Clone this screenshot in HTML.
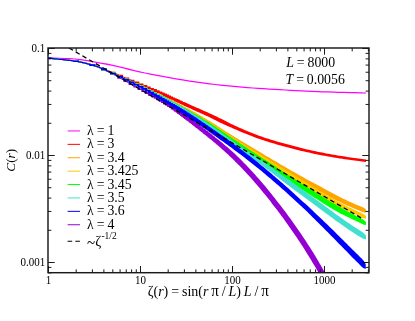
<!DOCTYPE html>
<html><head><meta charset="utf-8"><style>
html,body{margin:0;padding:0;background:#fff;}
svg{display:block;font-family:"Liberation Serif",serif;fill:#000;}
</style></head><body>
<svg width="415" height="321" viewBox="0 0 415 321">
<rect width="415" height="321" fill="#fff"/>
<defs><clipPath id="c"><rect x="48.0" y="48.0" width="321.0" height="224.7"/></clipPath></defs>
<g clip-path="url(#c)">
<path d="M48.0,57.4 L49.7,57.6 L51.5,57.8 L53.2,58.0 L54.9,58.2 L56.6,58.3 L58.4,58.5 L60.1,58.7 L61.8,58.9 L63.6,59.1 L65.3,59.3 L67.0,59.5 L68.7,59.7 L70.5,59.9 L72.2,60.1 L73.9,60.4 L75.7,60.6 L77.4,60.9 L79.1,61.2 L80.8,61.6 L82.6,61.9 L84.3,62.3 L86.0,62.7 L87.8,63.2 L89.5,63.6 L91.2,64.1 L92.9,64.6 L94.7,65.2 L96.4,65.7 L98.1,66.4 L99.9,67.1 L101.6,67.9 L103.3,68.7 L105.1,69.5 L106.8,70.3 L108.5,71.2 L110.2,72.0 L112.0,72.9 L113.7,73.8 L115.4,74.7 L117.2,75.6 L118.9,76.6 L120.6,77.5 L122.3,78.5 L124.1,79.4 L125.8,80.4 L127.5,81.3 L129.3,82.2 L131.0,83.2 L132.7,84.2 L134.4,85.1 L136.2,86.1 L137.9,87.1 L139.6,88.0 L141.4,89.0 L143.1,89.9 L144.8,90.8 L146.5,91.8 L148.3,92.7 L150.0,93.6 L150.0,95.0 L148.3,94.1 L146.5,93.1 L144.8,92.2 L143.1,91.3 L141.4,90.3 L139.6,89.4 L137.9,88.4 L136.2,87.5 L134.4,86.5 L132.7,85.5 L131.0,84.6 L129.3,83.6 L127.5,82.7 L125.8,81.7 L124.1,80.8 L122.3,79.8 L120.6,78.9 L118.9,77.9 L117.2,77.0 L115.4,76.1 L113.7,75.1 L112.0,74.2 L110.2,73.4 L108.5,72.5 L106.8,71.7 L105.1,70.8 L103.3,70.0 L101.6,69.2 L99.9,68.4 L98.1,67.7 L96.4,67.0 L94.7,66.4 L92.9,65.9 L91.2,65.4 L89.5,64.9 L87.8,64.4 L86.0,64.0 L84.3,63.6 L82.6,63.2 L80.8,62.8 L79.1,62.5 L77.4,62.1 L75.7,61.9 L73.9,61.6 L72.2,61.3 L70.5,61.1 L68.7,60.9 L67.0,60.7 L65.3,60.5 L63.6,60.3 L61.8,60.1 L60.1,59.9 L58.4,59.7 L56.6,59.5 L54.9,59.4 L53.2,59.2 L51.5,59.0 L49.7,58.8 L48.0,58.6Z M48.0,57.3 L51.4,57.3 L51.4,58.9 L48.0,58.9Z M73.2,60.5 L79.0,60.5 L79.0,62.1 L73.2,62.1Z M89.4,64.3 L95.2,64.3 L95.2,65.9 L89.4,65.9Z M101.0,68.8 L106.8,68.8 L106.8,70.4 L101.0,70.4Z M110.0,73.2 L115.8,73.2 L115.8,74.8 L110.0,74.8Z M117.2,77.1 L123.0,77.1 L123.0,78.7 L117.2,78.7Z M123.4,80.5 L129.2,80.5 L129.4,83.4 L134.4,83.4 L134.6,86.0 L139.2,86.0 L139.4,88.4 L143.4,88.4 L143.6,90.5 L147.2,90.5 L147.4,92.3 L150.6,92.3 L150.8,94.1 L153.8,94.1 L154.0,95.7 L156.8,95.7 L157.0,97.2 L159.6,97.2 L159.8,98.7 L162.2,98.7 L162.4,100.1 L164.6,100.1 L164.8,101.5 L166.8,101.5 L167.0,102.8 L169.0,102.8 L169.2,104.0 L171.0,104.0 L171.2,105.3 L173.0,105.3 L173.2,106.5 L175.0,106.5 L175.2,107.8 L176.6,107.8 L176.8,109.0 L178.4,109.0 L178.6,110.1 L180.0,110.1 L180.2,111.2 L181.6,111.2 L181.8,112.3 L183.0,112.3 L183.2,113.4 L184.6,113.4 L184.8,114.4 L186.0,114.4 L186.2,115.4 L187.2,115.4 L187.4,116.4 L188.6,116.4 L188.8,117.3 L189.8,117.3 L190.0,118.3 L191.2,118.3 L191.4,119.2 L192.2,119.2 L192.4,120.0 L193.4,120.0 L193.6,120.9 L194.6,120.9 L194.8,121.7 L195.6,121.7 L195.8,122.5 L196.8,122.5 L197.0,123.3 L197.8,123.3 L198.0,124.1 L198.8,124.1 L199.0,124.8 L199.8,124.8 L200.0,125.6 L200.8,125.6 L201.0,126.3 L201.6,126.3 L201.8,127.0 L202.6,127.0 L202.8,127.7 L203.4,127.7 L203.6,128.4 L204.4,128.4 L204.6,129.1 L205.2,129.1 L205.4,129.7 L206.0,129.7 L206.2,130.4 L206.8,130.4 L207.0,131.0 L207.8,131.0 L208.0,131.6 L208.4,131.6 L208.6,132.2 L209.2,132.2 L209.4,132.8 L210.0,132.8 L210.2,133.4 L210.8,133.4 L211.0,134.0 L211.6,134.0 L211.8,134.6 L212.2,134.6 L212.4,135.2 L213.0,135.2 L213.2,135.7 L213.6,135.7 L213.8,136.3 L214.4,136.3 L214.6,136.8 L215.0,136.8 L215.2,137.4 L215.6,137.4 L215.8,137.9 L216.0,137.9 L217.4,138.9 L218.8,140.0 L220.2,141.2 L221.6,142.3 L223.0,143.5 L224.4,144.7 L225.8,145.9 L227.2,147.1 L228.6,148.3 L230.0,149.5 L231.4,150.8 L232.8,152.1 L234.2,153.3 L235.6,154.6 L237.0,156.0 L238.4,157.3 L239.8,158.7 L241.2,160.0 L242.6,161.4 L244.0,162.9 L245.4,164.3 L246.8,165.7 L248.2,167.2 L249.6,168.7 L251.0,170.2 L252.4,171.7 L253.8,173.2 L255.2,174.8 L256.6,176.4 L258.0,178.0 L259.4,179.6 L260.8,181.2 L262.2,182.8 L263.6,184.5 L265.0,186.1 L266.4,187.8 L267.8,189.5 L269.2,191.2 L270.6,192.9 L271.9,194.6 L273.3,196.4 L274.7,198.1 L276.1,199.9 L277.5,201.7 L278.9,203.5 L280.3,205.3 L281.7,207.1 L283.1,208.9 L284.5,210.8 L285.9,212.6 L287.3,214.5 L288.7,216.4 L290.1,218.3 L291.5,220.3 L292.9,222.2 L294.3,224.2 L295.7,226.2 L297.1,228.2 L298.5,230.2 L299.9,232.2 L301.3,234.3 L302.7,236.4 L304.1,238.5 L305.5,240.6 L306.9,242.7 L308.3,244.9 L309.7,247.1 L311.1,249.3 L312.5,251.6 L313.9,253.8 L315.3,256.1 L316.7,258.5 L318.1,260.8 L319.5,263.2 L320.9,265.6 L322.3,268.0 L323.7,270.5 L325.1,273.0 L326.5,275.5 L326.5,287.2 L325.1,284.6 L323.7,282.0 L322.3,279.5 L320.9,277.0 L319.5,274.5 L318.1,272.0 L316.7,269.5 L315.3,267.1 L313.9,264.7 L312.5,262.4 L311.1,260.0 L309.7,257.7 L308.3,255.4 L306.9,253.2 L305.5,251.0 L304.1,248.7 L302.7,246.6 L301.3,244.4 L299.9,242.3 L298.5,240.2 L297.1,238.1 L295.7,236.0 L294.3,233.9 L292.9,231.9 L291.5,229.9 L290.1,227.9 L288.7,225.9 L287.3,223.9 L285.9,222.0 L284.5,220.0 L283.1,218.1 L281.7,216.2 L280.3,214.3 L278.9,212.5 L277.5,210.6 L276.1,208.8 L274.7,207.0 L273.3,205.2 L271.9,203.4 L270.6,201.6 L269.2,199.8 L267.8,198.1 L266.4,196.3 L265.0,194.6 L263.6,192.9 L262.2,191.2 L260.8,189.5 L259.4,187.8 L258.0,186.2 L256.6,184.5 L255.2,182.9 L253.8,181.3 L252.4,179.7 L251.0,178.1 L249.6,176.5 L248.2,175.0 L246.8,173.5 L245.4,171.9 L244.0,170.5 L242.6,169.0 L241.2,167.5 L239.8,166.1 L238.4,164.7 L237.0,163.3 L235.6,161.9 L234.2,160.5 L232.8,159.1 L231.4,157.8 L230.0,156.4 L228.6,155.1 L227.2,153.8 L225.8,152.5 L224.4,151.2 L223.0,150.0 L221.6,148.7 L220.2,147.5 L218.8,146.3 L217.4,145.1 L216.0,144.0 L215.8,143.5 L215.4,143.5 L215.2,143.1 L214.8,143.1 L214.6,142.6 L214.2,142.6 L214.0,142.1 L213.6,142.1 L213.4,141.6 L213.0,141.6 L212.8,141.1 L212.4,141.1 L212.2,140.6 L211.8,140.6 L211.6,140.1 L211.2,140.1 L211.0,139.5 L210.6,139.5 L210.4,139.0 L209.8,139.0 L209.6,138.5 L209.2,138.5 L209.0,137.9 L208.6,137.9 L208.4,137.4 L207.8,137.4 L207.6,136.8 L207.2,136.8 L207.0,136.2 L206.4,136.2 L206.2,135.7 L205.8,135.7 L205.6,135.1 L205.0,135.1 L204.8,134.5 L204.2,134.5 L204.0,133.9 L203.4,133.9 L203.2,133.3 L202.6,133.3 L202.4,132.6 L202.0,132.6 L201.8,132.0 L201.0,132.0 L200.8,131.3 L200.2,131.3 L200.0,130.7 L199.4,130.7 L199.2,130.0 L198.6,130.0 L198.4,129.3 L197.6,129.3 L197.4,128.6 L196.8,128.6 L196.6,127.9 L195.8,127.9 L195.6,127.2 L195.0,127.2 L194.8,126.4 L194.0,126.4 L193.8,125.7 L193.0,125.7 L192.8,124.9 L192.0,124.9 L191.8,124.1 L191.0,124.1 L190.8,123.3 L189.8,123.3 L189.6,122.5 L188.8,122.5 L188.6,121.6 L187.6,121.6 L187.4,120.8 L186.4,120.8 L186.2,119.9 L185.4,119.9 L185.2,118.9 L184.0,118.9 L183.8,118.0 L182.8,118.0 L182.6,117.0 L181.4,117.0 L181.2,116.0 L180.2,116.0 L180.0,115.0 L178.8,115.0 L178.6,113.9 L177.2,113.9 L177.0,112.8 L175.8,112.8 L175.6,111.7 L174.2,111.7 L174.0,110.6 L172.6,110.6 L172.4,109.4 L170.8,109.4 L170.6,108.1 L169.2,108.1 L169.0,106.9 L167.2,106.9 L167.0,105.6 L165.2,105.6 L165.0,104.4 L163.2,104.4 L163.0,103.1 L161.0,103.1 L160.8,101.7 L158.8,101.7 L158.6,100.3 L156.4,100.3 L156.2,98.8 L153.8,98.8 L153.6,97.3 L151.0,97.3 L150.8,95.7 L148.0,95.7 L147.8,93.9 L144.8,93.9 L144.6,92.1 L141.4,92.1 L141.2,90.0 L137.6,90.0 L137.4,87.6 L133.4,87.6 L133.2,85.0 L128.6,85.0 L128.4,82.1 L123.4,82.1Z" fill="#9400d3"/>
<path d="M48.0,57.3 L53.4,57.5 L58.8,57.7 L64.2,57.9 L69.6,58.1 L74.9,58.4 L80.3,58.9 L85.7,59.8 L91.1,60.8 L96.5,61.7 L101.9,62.7 L107.3,63.6 L112.7,64.8 L118.1,66.0 L123.5,67.3 L128.8,68.6 L134.2,69.9 L139.6,71.2 L145.0,72.4 L150.4,73.5 L155.8,74.6 L161.2,75.6 L166.6,76.6 L172.0,77.5 L177.4,78.4 L182.7,79.3 L188.1,80.2 L193.5,81.0 L198.9,81.7 L204.3,82.5 L209.7,83.2 L215.1,83.9 L220.5,84.5 L225.9,85.1 L231.3,85.6 L236.6,86.1 L242.0,86.6 L247.4,87.0 L252.8,87.4 L258.2,87.8 L263.6,88.1 L269.0,88.5 L274.4,88.8 L279.8,89.1 L285.2,89.4 L290.5,89.7 L295.9,90.0 L301.3,90.3 L306.7,90.5 L312.1,90.7 L317.5,91.0 L322.9,91.2 L328.3,91.3 L333.7,91.5 L339.1,91.7 L344.4,91.8 L349.8,92.0 L355.2,92.1 L360.6,92.2 L366.0,92.4 L366.0,93.6 L360.6,93.5 L355.2,93.3 L349.8,93.2 L344.4,93.0 L339.1,92.9 L333.7,92.7 L328.3,92.5 L322.9,92.4 L317.5,92.2 L312.1,91.9 L306.7,91.7 L301.3,91.5 L295.9,91.2 L290.5,90.9 L285.2,90.6 L279.8,90.3 L274.4,90.0 L269.0,89.7 L263.6,89.3 L258.2,89.0 L252.8,88.6 L247.4,88.2 L242.0,87.8 L236.6,87.3 L231.3,86.8 L225.9,86.3 L220.5,85.7 L215.1,85.1 L209.7,84.4 L204.3,83.7 L198.9,83.0 L193.5,82.2 L188.1,81.4 L182.7,80.5 L177.4,79.7 L172.0,78.7 L166.6,77.8 L161.2,76.8 L155.8,75.8 L150.4,74.7 L145.0,73.6 L139.6,72.4 L134.2,71.2 L128.8,69.9 L123.5,68.5 L118.1,67.3 L112.7,66.0 L107.3,64.9 L101.9,63.9 L96.5,63.0 L91.1,62.0 L85.7,61.0 L80.3,60.2 L74.9,59.6 L69.6,59.3 L64.2,59.1 L58.8,58.9 L53.4,58.7 L48.0,58.5Z" fill="#ff00ff"/>
<path d="M48.0,57.4 L49.7,57.6 L51.5,57.8 L53.2,58.0 L54.9,58.1 L56.6,58.3 L58.4,58.5 L60.1,58.7 L61.8,58.8 L63.6,59.0 L65.3,59.2 L67.0,59.4 L68.7,59.6 L70.5,59.8 L72.2,60.0 L73.9,60.3 L75.7,60.5 L77.4,60.8 L79.1,61.1 L80.8,61.5 L82.6,61.8 L84.3,62.2 L86.0,62.6 L87.8,63.1 L89.5,63.5 L91.2,64.0 L92.9,64.5 L94.7,65.0 L96.4,65.5 L98.1,66.1 L99.9,66.7 L101.6,67.4 L103.3,68.1 L105.1,68.8 L106.8,69.5 L108.5,70.2 L110.2,70.9 L112.0,71.6 L113.7,72.3 L115.4,73.1 L117.2,73.8 L118.9,74.5 L120.6,75.2 L122.3,75.9 L124.1,76.7 L125.8,77.4 L127.5,78.1 L129.3,78.8 L131.0,79.5 L132.7,80.3 L134.4,81.0 L136.2,81.7 L137.9,82.5 L139.6,83.2 L141.4,83.9 L143.1,84.7 L144.8,85.4 L146.5,86.1 L148.3,86.9 L150.0,87.6 L150.0,88.9 L148.3,88.2 L146.5,87.4 L144.8,86.7 L143.1,86.0 L141.4,85.2 L139.6,84.5 L137.9,83.8 L136.2,83.0 L134.4,82.3 L132.7,81.6 L131.0,80.8 L129.3,80.1 L127.5,79.4 L125.8,78.7 L124.1,78.0 L122.3,77.2 L120.6,76.5 L118.9,75.8 L117.2,75.1 L115.4,74.4 L113.7,73.6 L112.0,72.9 L110.2,72.2 L108.5,71.5 L106.8,70.8 L105.1,70.1 L103.3,69.4 L101.6,68.7 L99.9,68.0 L98.1,67.4 L96.4,66.8 L94.7,66.2 L92.9,65.7 L91.2,65.2 L89.5,64.8 L87.8,64.3 L86.0,63.9 L84.3,63.5 L82.6,63.1 L80.8,62.7 L79.1,62.4 L77.4,62.0 L75.7,61.8 L73.9,61.5 L72.2,61.2 L70.5,61.0 L68.7,60.8 L67.0,60.6 L65.3,60.4 L63.6,60.2 L61.8,60.0 L60.1,59.9 L58.4,59.7 L56.6,59.5 L54.9,59.3 L53.2,59.2 L51.5,59.0 L49.7,58.8 L48.0,58.6Z M48.0,57.3 L51.4,57.3 L51.4,58.9 L48.0,58.9Z M73.2,60.4 L79.0,60.4 L79.0,62.0 L73.2,62.0Z M89.4,64.1 L95.2,64.1 L95.2,65.7 L89.4,65.7Z M101.0,68.2 L106.8,68.2 L106.8,69.8 L101.0,69.8Z M110.0,71.8 L115.8,71.8 L115.8,73.4 L110.0,73.4Z M117.2,74.8 L123.0,74.8 L123.0,76.4 L117.2,76.4Z M123.4,77.4 L129.2,77.4 L129.4,79.7 L134.4,79.7 L134.6,81.6 L139.2,81.6 L139.4,83.4 L143.4,83.4 L143.6,85.0 L147.2,85.0 L147.4,86.5 L150.6,86.5 L150.8,87.9 L153.8,87.9 L154.0,89.1 L156.8,89.1 L157.0,90.3 L159.6,90.3 L159.8,91.5 L162.2,91.5 L162.4,92.6 L164.6,92.6 L164.8,93.6 L166.8,93.6 L167.0,94.6 L169.0,94.6 L169.2,95.6 L171.0,95.6 L171.2,96.5 L173.0,96.5 L173.2,97.4 L175.0,97.4 L175.2,98.2 L176.6,98.2 L176.8,99.0 L178.4,99.0 L178.6,99.8 L180.0,99.8 L180.2,100.5 L181.6,100.5 L181.8,101.2 L183.0,101.2 L183.2,101.9 L184.6,101.9 L184.8,102.5 L186.0,102.5 L186.2,103.1 L187.2,103.1 L187.4,103.7 L188.6,103.7 L188.8,104.3 L189.8,104.3 L190.0,104.9 L191.2,104.9 L191.4,105.4 L192.2,105.4 L192.4,105.9 L193.4,105.9 L193.6,106.4 L194.6,106.4 L194.8,106.9 L195.6,106.9 L195.8,107.4 L196.8,107.4 L197.0,107.9 L197.8,107.9 L198.0,108.3 L198.8,108.3 L199.0,108.8 L199.8,108.8 L200.0,109.2 L200.8,109.2 L201.0,109.6 L201.6,109.6 L201.8,110.1 L202.6,110.1 L202.8,110.5 L203.4,110.5 L203.6,110.9 L204.4,110.9 L204.6,111.2 L205.2,111.2 L205.4,111.6 L206.0,111.6 L206.2,112.0 L206.8,112.0 L207.0,112.3 L207.8,112.3 L208.0,112.7 L208.4,112.7 L208.6,113.0 L209.2,113.0 L209.4,113.4 L210.0,113.4 L210.2,113.7 L210.8,113.7 L211.0,114.1 L211.6,114.1 L211.8,114.4 L212.2,114.4 L212.4,114.7 L213.0,114.7 L213.2,115.0 L213.6,115.0 L213.8,115.4 L214.4,115.4 L214.6,115.7 L215.0,115.7 L215.2,116.0 L215.6,116.0 L215.8,116.3 L216.0,116.3 L217.9,117.2 L219.8,118.2 L221.7,119.1 L223.6,120.1 L225.5,121.1 L227.4,122.0 L229.3,123.0 L231.2,123.9 L233.1,124.8 L235.0,125.7 L236.9,126.5 L238.8,127.4 L240.7,128.3 L242.6,129.1 L244.5,130.0 L246.4,130.8 L248.3,131.6 L250.2,132.3 L252.1,133.1 L254.0,133.8 L255.9,134.6 L257.8,135.2 L259.7,135.9 L261.6,136.6 L263.5,137.2 L265.4,137.9 L267.3,138.5 L269.2,139.1 L271.1,139.7 L273.0,140.3 L274.9,140.8 L276.8,141.4 L278.7,141.9 L280.6,142.5 L282.5,143.0 L284.4,143.5 L286.3,144.0 L288.2,144.5 L290.1,145.0 L291.9,145.5 L293.8,146.0 L295.7,146.5 L297.6,147.0 L299.5,147.5 L301.4,148.0 L303.3,148.4 L305.2,148.9 L307.1,149.4 L309.0,149.8 L310.9,150.2 L312.8,150.7 L314.7,151.1 L316.6,151.5 L318.5,151.9 L320.4,152.3 L322.3,152.6 L324.2,153.0 L326.1,153.4 L328.0,153.7 L329.9,154.1 L331.8,154.4 L333.7,154.7 L335.6,155.1 L337.5,155.4 L339.4,155.7 L341.3,156.0 L343.2,156.3 L345.1,156.6 L347.0,156.9 L348.9,157.2 L350.8,157.4 L352.7,157.7 L354.6,158.0 L356.5,158.2 L358.4,158.5 L360.3,158.8 L362.2,159.0 L364.1,159.3 L366.0,159.5 L366.0,162.1 L364.1,161.8 L362.2,161.6 L360.3,161.3 L358.4,161.1 L356.5,160.8 L354.6,160.5 L352.7,160.3 L350.8,160.0 L348.9,159.8 L347.0,159.5 L345.1,159.2 L343.2,158.9 L341.3,158.6 L339.4,158.4 L337.5,158.1 L335.6,157.7 L333.7,157.4 L331.8,157.1 L329.9,156.8 L328.0,156.4 L326.1,156.1 L324.2,155.8 L322.3,155.4 L320.4,155.0 L318.5,154.7 L316.6,154.3 L314.7,153.9 L312.8,153.5 L310.9,153.1 L309.0,152.6 L307.1,152.2 L305.2,151.8 L303.3,151.3 L301.4,150.9 L299.5,150.4 L297.6,149.9 L295.7,149.4 L293.8,149.0 L291.9,148.5 L290.1,148.0 L288.2,147.5 L286.3,147.0 L284.4,146.5 L282.5,146.0 L280.6,145.4 L278.7,144.9 L276.8,144.4 L274.9,143.8 L273.0,143.3 L271.1,142.7 L269.2,142.2 L267.3,141.6 L265.4,141.0 L263.5,140.3 L261.6,139.7 L259.7,139.1 L257.8,138.4 L255.9,137.7 L254.0,137.0 L252.1,136.3 L250.2,135.6 L248.3,134.8 L246.4,134.1 L244.5,133.3 L242.6,132.5 L240.7,131.7 L238.8,130.9 L236.9,130.1 L235.0,129.2 L233.1,128.4 L231.2,127.6 L229.3,126.8 L227.4,125.9 L225.5,125.1 L223.6,124.2 L221.7,123.3 L219.8,122.4 L217.9,121.5 L216.0,120.6 L215.8,120.3 L215.4,120.3 L215.2,120.0 L214.8,120.0 L214.6,119.7 L214.2,119.7 L214.0,119.4 L213.6,119.4 L213.4,119.1 L213.0,119.1 L212.8,118.8 L212.4,118.8 L212.2,118.5 L211.8,118.5 L211.6,118.2 L211.2,118.2 L211.0,117.9 L210.6,117.9 L210.4,117.6 L209.8,117.6 L209.6,117.3 L209.2,117.3 L209.0,117.0 L208.6,117.0 L208.4,116.6 L207.8,116.6 L207.6,116.3 L207.2,116.3 L207.0,116.0 L206.4,116.0 L206.2,115.7 L205.8,115.7 L205.6,115.3 L205.0,115.3 L204.8,115.0 L204.2,115.0 L204.0,114.6 L203.4,114.6 L203.2,114.3 L202.6,114.3 L202.4,113.9 L202.0,113.9 L201.8,113.6 L201.0,113.6 L200.8,113.2 L200.2,113.2 L200.0,112.8 L199.4,112.8 L199.2,112.5 L198.6,112.5 L198.4,112.1 L197.6,112.1 L197.4,111.7 L196.8,111.7 L196.6,111.2 L195.8,111.2 L195.6,110.8 L195.0,110.8 L194.8,110.4 L194.0,110.4 L193.8,109.9 L193.0,109.9 L192.8,109.5 L192.0,109.5 L191.8,109.0 L191.0,109.0 L190.8,108.5 L189.8,108.5 L189.6,108.0 L188.8,108.0 L188.6,107.5 L187.6,107.5 L187.4,107.0 L186.4,107.0 L186.2,106.5 L185.4,106.5 L185.2,105.9 L184.0,105.9 L183.8,105.3 L182.8,105.3 L182.6,104.7 L181.4,104.7 L181.2,104.1 L180.2,104.1 L180.0,103.5 L178.8,103.5 L178.6,102.8 L177.2,102.8 L177.0,102.1 L175.8,102.1 L175.6,101.4 L174.2,101.4 L174.0,100.6 L172.6,100.6 L172.4,99.8 L170.8,99.8 L170.6,99.0 L169.2,99.0 L169.0,98.1 L167.2,98.1 L167.0,97.2 L165.2,97.2 L165.0,96.2 L163.2,96.2 L163.0,95.2 L161.0,95.2 L160.8,94.2 L158.8,94.2 L158.6,93.1 L156.4,93.1 L156.2,91.9 L153.8,91.9 L153.6,90.7 L151.0,90.7 L150.8,89.5 L148.0,89.5 L147.8,88.1 L144.8,88.1 L144.6,86.6 L141.4,86.6 L141.2,85.0 L137.6,85.0 L137.4,83.2 L133.4,83.2 L133.2,81.3 L128.6,81.3 L128.4,79.0 L123.4,79.0Z" fill="#ff0000"/>
<path d="M48.0,57.4 L49.7,57.6 L51.5,57.8 L53.2,58.0 L54.9,58.2 L56.6,58.3 L58.4,58.5 L60.1,58.7 L61.8,58.9 L63.6,59.1 L65.3,59.3 L67.0,59.5 L68.7,59.7 L70.5,59.9 L72.2,60.1 L73.9,60.4 L75.7,60.6 L77.4,60.9 L79.1,61.2 L80.8,61.6 L82.6,62.0 L84.3,62.3 L86.0,62.8 L87.8,63.2 L89.5,63.7 L91.2,64.1 L92.9,64.7 L94.7,65.2 L96.4,65.7 L98.1,66.4 L99.9,67.0 L101.6,67.8 L103.3,68.5 L105.1,69.3 L106.8,70.1 L108.5,70.9 L110.2,71.6 L112.0,72.4 L113.7,73.2 L115.4,74.0 L117.2,74.7 L118.9,75.5 L120.6,76.3 L122.3,77.1 L124.1,77.9 L125.8,78.7 L127.5,79.5 L129.3,80.3 L131.0,81.1 L132.7,81.9 L134.4,82.7 L136.2,83.5 L137.9,84.3 L139.6,85.2 L141.4,86.0 L143.1,86.8 L144.8,87.6 L146.5,88.5 L148.3,89.3 L150.0,90.2 L150.0,91.5 L148.3,90.7 L146.5,89.8 L144.8,89.0 L143.1,88.1 L141.4,87.3 L139.6,86.5 L137.9,85.7 L136.2,84.8 L134.4,84.0 L132.7,83.2 L131.0,82.4 L129.3,81.6 L127.5,80.8 L125.8,80.0 L124.1,79.2 L122.3,78.4 L120.6,77.6 L118.9,76.8 L117.2,76.1 L115.4,75.3 L113.7,74.5 L112.0,73.7 L110.2,73.0 L108.5,72.2 L106.8,71.4 L105.1,70.6 L103.3,69.8 L101.6,69.1 L99.9,68.3 L98.1,67.6 L96.4,67.0 L94.7,66.4 L92.9,65.9 L91.2,65.4 L89.5,64.9 L87.8,64.4 L86.0,64.0 L84.3,63.6 L82.6,63.2 L80.8,62.8 L79.1,62.5 L77.4,62.1 L75.7,61.9 L73.9,61.6 L72.2,61.3 L70.5,61.1 L68.7,60.9 L67.0,60.7 L65.3,60.5 L63.6,60.3 L61.8,60.1 L60.1,59.9 L58.4,59.7 L56.6,59.5 L54.9,59.4 L53.2,59.2 L51.5,59.0 L49.7,58.8 L48.0,58.6Z M48.0,57.3 L51.4,57.3 L51.4,58.9 L48.0,58.9Z M73.2,60.5 L79.0,60.5 L79.0,62.1 L73.2,62.1Z M89.4,64.3 L95.2,64.3 L95.2,65.9 L89.4,65.9Z M101.0,68.6 L106.8,68.6 L106.8,70.2 L101.0,70.2Z M110.0,72.6 L115.8,72.6 L115.8,74.2 L110.0,74.2Z M117.2,75.9 L123.0,75.9 L123.0,77.5 L117.2,77.5Z M123.4,78.8 L129.2,78.8 L129.4,81.2 L134.4,81.2 L134.6,83.4 L139.2,83.4 L139.4,85.4 L143.4,85.4 L143.6,87.3 L147.2,87.3 L147.4,88.9 L150.6,88.9 L150.8,90.5 L153.8,90.5 L154.0,92.0 L156.8,92.0 L157.0,93.3 L159.6,93.3 L159.8,94.6 L162.2,94.6 L162.4,95.9 L164.6,95.9 L164.8,97.0 L166.8,97.0 L167.0,98.1 L169.0,98.1 L169.2,99.2 L171.0,99.2 L171.2,100.2 L173.0,100.2 L173.2,101.2 L175.0,101.2 L175.2,102.2 L176.6,102.2 L176.8,103.1 L178.4,103.1 L178.6,103.9 L180.0,103.9 L180.2,104.8 L181.6,104.8 L181.8,105.6 L183.0,105.6 L183.2,106.4 L184.6,106.4 L184.8,107.2 L186.0,107.2 L186.2,107.9 L187.2,107.9 L187.4,108.6 L188.6,108.6 L188.8,109.3 L189.8,109.3 L190.0,110.0 L191.2,110.0 L191.4,110.7 L192.2,110.7 L192.4,111.3 L193.4,111.3 L193.6,112.0 L194.6,112.0 L194.8,112.6 L195.6,112.6 L195.8,113.2 L196.8,113.2 L197.0,113.8 L197.8,113.8 L198.0,114.4 L198.8,114.4 L199.0,115.0 L199.8,115.0 L200.0,115.5 L200.8,115.5 L201.0,116.1 L201.6,116.1 L201.8,116.6 L202.6,116.6 L202.8,117.2 L203.4,117.2 L203.6,117.7 L204.4,117.7 L204.6,118.2 L205.2,118.2 L205.4,118.7 L206.0,118.7 L206.2,119.2 L206.8,119.2 L207.0,119.7 L207.8,119.7 L208.0,120.2 L208.4,120.2 L208.6,120.7 L209.2,120.7 L209.4,121.1 L210.0,121.1 L210.2,121.6 L210.8,121.6 L211.0,122.0 L211.6,122.0 L211.8,122.5 L212.2,122.5 L212.4,122.9 L213.0,122.9 L213.2,123.4 L213.6,123.4 L213.8,123.8 L214.4,123.8 L214.6,124.2 L215.0,124.2 L215.2,124.6 L215.6,124.6 L215.8,125.0 L216.0,125.0 L217.9,126.2 L219.8,127.5 L221.7,128.7 L223.6,130.0 L225.5,131.2 L227.4,132.4 L229.3,133.6 L231.2,134.8 L233.1,136.0 L235.0,137.2 L236.9,138.3 L238.8,139.5 L240.7,140.7 L242.6,141.8 L244.5,142.9 L246.4,144.0 L248.3,145.2 L250.2,146.3 L252.1,147.4 L254.0,148.6 L255.9,149.7 L257.8,150.8 L259.7,152.0 L261.6,153.1 L263.5,154.2 L265.4,155.4 L267.3,156.5 L269.2,157.6 L271.1,158.8 L273.0,159.9 L274.9,161.0 L276.8,162.1 L278.7,163.2 L280.6,164.4 L282.5,165.5 L284.4,166.6 L286.3,167.7 L288.2,168.8 L290.1,169.9 L291.9,171.0 L293.8,172.0 L295.7,173.1 L297.6,174.2 L299.5,175.2 L301.4,176.3 L303.3,177.3 L305.2,178.4 L307.1,179.4 L309.0,180.4 L310.9,181.5 L312.8,182.5 L314.7,183.5 L316.6,184.5 L318.5,185.6 L320.4,186.6 L322.3,187.6 L324.2,188.7 L326.1,189.7 L328.0,190.7 L329.9,191.8 L331.8,192.8 L333.7,193.8 L335.6,194.8 L337.5,195.8 L339.4,196.8 L341.3,197.8 L343.2,198.7 L345.1,199.6 L347.0,200.5 L348.9,201.4 L350.8,202.3 L352.7,203.1 L354.6,204.0 L356.5,204.8 L358.4,205.6 L360.3,206.3 L362.2,207.1 L364.1,208.1 L366.0,209.5 L366.0,212.5 L364.1,212.4 L362.2,211.8 L360.3,211.1 L358.4,210.3 L356.5,209.6 L354.6,208.8 L352.7,208.0 L350.8,207.1 L348.9,206.3 L347.0,205.5 L345.1,204.6 L343.2,203.7 L341.3,202.8 L339.4,201.8 L337.5,200.9 L335.6,199.9 L333.7,198.9 L331.8,197.9 L329.9,196.9 L328.0,195.9 L326.1,194.8 L324.2,193.8 L322.3,192.8 L320.4,191.8 L318.5,190.7 L316.6,189.7 L314.7,188.7 L312.8,187.7 L310.9,186.6 L309.0,185.6 L307.1,184.6 L305.2,183.6 L303.3,182.5 L301.4,181.5 L299.5,180.5 L297.6,179.4 L295.7,178.3 L293.8,177.2 L291.9,176.1 L290.1,175.0 L288.2,173.9 L286.3,172.8 L284.4,171.7 L282.5,170.6 L280.6,169.4 L278.7,168.3 L276.8,167.2 L274.9,166.0 L273.0,164.9 L271.1,163.7 L269.2,162.6 L267.3,161.4 L265.4,160.2 L263.5,159.1 L261.6,157.9 L259.7,156.8 L257.8,155.6 L255.9,154.5 L254.0,153.3 L252.1,152.1 L250.2,151.0 L248.3,149.8 L246.4,148.6 L244.5,147.4 L242.6,146.2 L240.7,145.0 L238.8,143.9 L236.9,142.7 L235.0,141.6 L233.1,140.4 L231.2,139.3 L229.3,138.1 L227.4,137.0 L225.5,135.8 L223.6,134.7 L221.7,133.5 L219.8,132.3 L217.9,131.2 L216.0,130.1 L215.8,129.7 L215.4,129.7 L215.2,129.4 L214.8,129.4 L214.6,129.0 L214.2,129.0 L214.0,128.6 L213.6,128.6 L213.4,128.2 L213.0,128.2 L212.8,127.8 L212.4,127.8 L212.2,127.4 L211.8,127.4 L211.6,127.0 L211.2,127.0 L211.0,126.6 L210.6,126.6 L210.4,126.2 L209.8,126.2 L209.6,125.8 L209.2,125.8 L209.0,125.4 L208.6,125.4 L208.4,125.0 L207.8,125.0 L207.6,124.5 L207.2,124.5 L207.0,124.1 L206.4,124.1 L206.2,123.6 L205.8,123.6 L205.6,123.2 L205.0,123.2 L204.8,122.7 L204.2,122.7 L204.0,122.3 L203.4,122.3 L203.2,121.8 L202.6,121.8 L202.4,121.3 L202.0,121.3 L201.8,120.8 L201.0,120.8 L200.8,120.3 L200.2,120.3 L200.0,119.8 L199.4,119.8 L199.2,119.3 L198.6,119.3 L198.4,118.8 L197.6,118.8 L197.4,118.2 L196.8,118.2 L196.6,117.7 L195.8,117.7 L195.6,117.1 L195.0,117.1 L194.8,116.6 L194.0,116.6 L193.8,116.0 L193.0,116.0 L192.8,115.4 L192.0,115.4 L191.8,114.8 L191.0,114.8 L190.8,114.2 L189.8,114.2 L189.6,113.6 L188.8,113.6 L188.6,112.9 L187.6,112.9 L187.4,112.3 L186.4,112.3 L186.2,111.6 L185.4,111.6 L185.2,110.9 L184.0,110.9 L183.8,110.2 L182.8,110.2 L182.6,109.5 L181.4,109.5 L181.2,108.8 L180.2,108.8 L180.0,108.0 L178.8,108.0 L178.6,107.2 L177.2,107.2 L177.0,106.4 L175.8,106.4 L175.6,105.5 L174.2,105.5 L174.0,104.7 L172.6,104.7 L172.4,103.8 L170.8,103.8 L170.6,102.8 L169.2,102.8 L169.0,101.8 L167.2,101.8 L167.0,100.8 L165.2,100.8 L165.0,99.7 L163.2,99.7 L163.0,98.6 L161.0,98.6 L160.8,97.5 L158.8,97.5 L158.6,96.2 L156.4,96.2 L156.2,94.9 L153.8,94.9 L153.6,93.6 L151.0,93.6 L150.8,92.1 L148.0,92.1 L147.8,90.5 L144.8,90.5 L144.6,88.9 L141.4,88.9 L141.2,87.0 L137.6,87.0 L137.4,85.0 L133.4,85.0 L133.2,82.8 L128.6,82.8 L128.4,80.4 L123.4,80.4Z" fill="#ffa500"/>
<path d="M48.0,57.4 L49.7,57.6 L51.5,57.8 L53.2,58.0 L54.9,58.2 L56.6,58.3 L58.4,58.5 L60.1,58.7 L61.8,58.9 L63.6,59.1 L65.3,59.3 L67.0,59.5 L68.7,59.7 L70.5,59.9 L72.2,60.1 L73.9,60.4 L75.7,60.6 L77.4,60.9 L79.1,61.2 L80.8,61.6 L82.6,62.0 L84.3,62.3 L86.0,62.8 L87.8,63.2 L89.5,63.7 L91.2,64.1 L92.9,64.7 L94.7,65.2 L96.4,65.7 L98.1,66.4 L99.9,67.0 L101.6,67.8 L103.3,68.5 L105.1,69.3 L106.8,70.1 L108.5,70.9 L110.2,71.6 L112.0,72.4 L113.7,73.2 L115.4,74.0 L117.2,74.7 L118.9,75.5 L120.6,76.3 L122.3,77.1 L124.1,77.9 L125.8,78.7 L127.5,79.5 L129.3,80.3 L131.0,81.1 L132.7,81.9 L134.4,82.8 L136.2,83.6 L137.9,84.4 L139.6,85.3 L141.4,86.1 L143.1,86.9 L144.8,87.8 L146.5,88.6 L148.3,89.4 L150.0,90.3 L150.0,91.6 L148.3,90.8 L146.5,89.9 L144.8,89.1 L143.1,88.3 L141.4,87.4 L139.6,86.6 L137.9,85.8 L136.2,84.9 L134.4,84.1 L132.7,83.3 L131.0,82.5 L129.3,81.6 L127.5,80.8 L125.8,80.0 L124.1,79.2 L122.3,78.4 L120.6,77.6 L118.9,76.8 L117.2,76.1 L115.4,75.3 L113.7,74.5 L112.0,73.7 L110.2,73.0 L108.5,72.2 L106.8,71.4 L105.1,70.6 L103.3,69.8 L101.6,69.1 L99.9,68.3 L98.1,67.6 L96.4,67.0 L94.7,66.4 L92.9,65.9 L91.2,65.4 L89.5,64.9 L87.8,64.4 L86.0,64.0 L84.3,63.6 L82.6,63.2 L80.8,62.8 L79.1,62.5 L77.4,62.1 L75.7,61.9 L73.9,61.6 L72.2,61.3 L70.5,61.1 L68.7,60.9 L67.0,60.7 L65.3,60.5 L63.6,60.3 L61.8,60.1 L60.1,59.9 L58.4,59.7 L56.6,59.5 L54.9,59.4 L53.2,59.2 L51.5,59.0 L49.7,58.8 L48.0,58.6Z M48.0,57.3 L51.4,57.3 L51.4,58.9 L48.0,58.9Z M73.2,60.5 L79.0,60.5 L79.0,62.1 L73.2,62.1Z M89.4,64.3 L95.2,64.3 L95.2,65.9 L89.4,65.9Z M101.0,68.6 L106.8,68.6 L106.8,70.2 L101.0,70.2Z M110.0,72.6 L115.8,72.6 L115.8,74.2 L110.0,74.2Z M117.2,75.9 L123.0,75.9 L123.0,77.5 L117.2,77.5Z M123.4,78.8 L129.2,78.8 L129.4,81.3 L134.4,81.3 L134.6,83.5 L139.2,83.5 L139.4,85.5 L143.4,85.5 L143.6,87.4 L147.2,87.4 L147.4,89.1 L150.6,89.1 L150.8,90.7 L153.8,90.7 L154.0,92.1 L156.8,92.1 L157.0,93.5 L159.6,93.5 L159.8,94.8 L162.2,94.8 L162.4,96.1 L164.6,96.1 L164.8,97.3 L166.8,97.3 L167.0,98.4 L169.0,98.4 L169.2,99.5 L171.0,99.5 L171.2,100.6 L173.0,100.6 L173.2,101.6 L175.0,101.6 L175.2,102.6 L176.6,102.6 L176.8,103.5 L178.4,103.5 L178.6,104.4 L180.0,104.4 L180.2,105.3 L181.6,105.3 L181.8,106.1 L183.0,106.1 L183.2,106.9 L184.6,106.9 L184.8,107.7 L186.0,107.7 L186.2,108.5 L187.2,108.5 L187.4,109.2 L188.6,109.2 L188.8,109.9 L189.8,109.9 L190.0,110.6 L191.2,110.6 L191.4,111.3 L192.2,111.3 L192.4,112.0 L193.4,112.0 L193.6,112.7 L194.6,112.7 L194.8,113.3 L195.6,113.3 L195.8,113.9 L196.8,113.9 L197.0,114.5 L197.8,114.5 L198.0,115.1 L198.8,115.1 L199.0,115.7 L199.8,115.7 L200.0,116.3 L200.8,116.3 L201.0,116.9 L201.6,116.9 L201.8,117.4 L202.6,117.4 L202.8,118.0 L203.4,118.0 L203.6,118.5 L204.4,118.5 L204.6,119.0 L205.2,119.0 L205.4,119.5 L206.0,119.5 L206.2,120.1 L206.8,120.1 L207.0,120.6 L207.8,120.6 L208.0,121.0 L208.4,121.0 L208.6,121.5 L209.2,121.5 L209.4,122.0 L210.0,122.0 L210.2,122.5 L210.8,122.5 L211.0,122.9 L211.6,122.9 L211.8,123.4 L212.2,123.4 L212.4,123.9 L213.0,123.9 L213.2,124.3 L213.6,124.3 L213.8,124.7 L214.4,124.7 L214.6,125.2 L215.0,125.2 L215.2,125.6 L215.6,125.6 L215.8,126.0 L216.0,126.0 L217.9,127.2 L219.8,128.5 L221.7,129.7 L223.6,131.0 L225.5,132.3 L227.4,133.5 L229.3,134.8 L231.2,136.0 L233.1,137.2 L235.0,138.4 L236.9,139.7 L238.8,140.9 L240.7,142.1 L242.6,143.3 L244.5,144.5 L246.4,145.7 L248.3,146.9 L250.2,148.1 L252.1,149.3 L254.0,150.5 L255.9,151.7 L257.8,152.8 L259.7,154.0 L261.6,155.2 L263.5,156.4 L265.4,157.6 L267.3,158.8 L269.2,159.9 L271.1,161.1 L273.0,162.3 L274.9,163.4 L276.8,164.6 L278.7,165.7 L280.6,166.9 L282.5,168.0 L284.4,169.2 L286.3,170.3 L288.2,171.4 L290.1,172.6 L291.9,173.7 L293.8,174.9 L295.7,176.1 L297.6,177.2 L299.5,178.4 L301.4,179.6 L303.3,180.8 L305.2,182.0 L307.1,183.2 L309.0,184.4 L310.9,185.5 L312.8,186.7 L314.7,187.9 L316.6,189.1 L318.5,190.3 L320.4,191.4 L322.3,192.6 L324.2,193.7 L326.1,194.8 L328.0,195.9 L329.9,197.0 L331.8,198.1 L333.7,199.2 L335.6,200.2 L337.5,201.3 L339.4,202.3 L341.3,203.3 L343.2,204.3 L345.1,205.2 L347.0,206.2 L348.9,207.2 L350.8,208.1 L352.7,209.0 L354.6,209.9 L356.5,210.8 L358.4,211.7 L360.3,212.6 L362.2,213.5 L364.1,214.5 L366.0,215.9 L366.0,218.7 L364.1,218.4 L362.2,217.7 L360.3,216.8 L358.4,216.0 L356.5,215.1 L354.6,214.2 L352.7,213.4 L350.8,212.5 L348.9,211.6 L347.0,210.7 L345.1,209.8 L343.2,208.8 L341.3,207.9 L339.4,206.9 L337.5,205.9 L335.6,204.9 L333.7,203.9 L331.8,202.9 L329.9,201.9 L328.0,200.8 L326.1,199.7 L324.2,198.7 L322.3,197.6 L320.4,196.5 L318.5,195.3 L316.6,194.2 L314.7,193.1 L312.8,191.9 L310.9,190.8 L309.0,189.6 L307.1,188.5 L305.2,187.3 L303.3,186.1 L301.4,185.0 L299.5,183.8 L297.6,182.6 L295.7,181.4 L293.8,180.2 L291.9,179.0 L290.1,177.9 L288.2,176.7 L286.3,175.5 L284.4,174.3 L282.5,173.2 L280.6,172.0 L278.7,170.8 L276.8,169.6 L274.9,168.5 L273.0,167.3 L271.1,166.1 L269.2,164.9 L267.3,163.7 L265.4,162.5 L263.5,161.3 L261.6,160.1 L259.7,158.9 L257.8,157.7 L255.9,156.5 L254.0,155.3 L252.1,154.0 L250.2,152.8 L248.3,151.6 L246.4,150.3 L244.5,149.1 L242.6,147.8 L240.7,146.6 L238.8,145.4 L236.9,144.1 L235.0,142.9 L233.1,141.7 L231.2,140.5 L229.3,139.3 L227.4,138.1 L225.5,137.0 L223.6,135.8 L221.7,134.6 L219.8,133.4 L217.9,132.2 L216.0,131.1 L215.8,130.7 L215.4,130.7 L215.2,130.4 L214.8,130.4 L214.6,130.0 L214.2,130.0 L214.0,129.6 L213.6,129.6 L213.4,129.2 L213.0,129.2 L212.8,128.8 L212.4,128.8 L212.2,128.4 L211.8,128.4 L211.6,128.0 L211.2,128.0 L211.0,127.6 L210.6,127.6 L210.4,127.2 L209.8,127.2 L209.6,126.8 L209.2,126.8 L209.0,126.3 L208.6,126.3 L208.4,125.9 L207.8,125.9 L207.6,125.5 L207.2,125.5 L207.0,125.0 L206.4,125.0 L206.2,124.5 L205.8,124.5 L205.6,124.1 L205.0,124.1 L204.8,123.6 L204.2,123.6 L204.0,123.1 L203.4,123.1 L203.2,122.6 L202.6,122.6 L202.4,122.2 L202.0,122.2 L201.8,121.7 L201.0,121.7 L200.8,121.1 L200.2,121.1 L200.0,120.6 L199.4,120.6 L199.2,120.1 L198.6,120.1 L198.4,119.6 L197.6,119.6 L197.4,119.0 L196.8,119.0 L196.6,118.5 L195.8,118.5 L195.6,117.9 L195.0,117.9 L194.8,117.3 L194.0,117.3 L193.8,116.7 L193.0,116.7 L192.8,116.1 L192.0,116.1 L191.8,115.5 L191.0,115.5 L190.8,114.9 L189.8,114.9 L189.6,114.3 L188.8,114.3 L188.6,113.6 L187.6,113.6 L187.4,112.9 L186.4,112.9 L186.2,112.2 L185.4,112.2 L185.2,111.5 L184.0,111.5 L183.8,110.8 L182.8,110.8 L182.6,110.1 L181.4,110.1 L181.2,109.3 L180.2,109.3 L180.0,108.5 L178.8,108.5 L178.6,107.7 L177.2,107.7 L177.0,106.9 L175.8,106.9 L175.6,106.0 L174.2,106.0 L174.0,105.1 L172.6,105.1 L172.4,104.2 L170.8,104.2 L170.6,103.2 L169.2,103.2 L169.0,102.2 L167.2,102.2 L167.0,101.1 L165.2,101.1 L165.0,100.0 L163.2,100.0 L163.0,98.9 L161.0,98.9 L160.8,97.7 L158.8,97.7 L158.6,96.4 L156.4,96.4 L156.2,95.1 L153.8,95.1 L153.6,93.7 L151.0,93.7 L150.8,92.3 L148.0,92.3 L147.8,90.7 L144.8,90.7 L144.6,89.0 L141.4,89.0 L141.2,87.1 L137.6,87.1 L137.4,85.1 L133.4,85.1 L133.2,82.9 L128.6,82.9 L128.4,80.4 L123.4,80.4Z" fill="#ffc800"/>
<path d="M48.0,57.4 L49.7,57.6 L51.5,57.8 L53.2,58.0 L54.9,58.2 L56.6,58.3 L58.4,58.5 L60.1,58.7 L61.8,58.9 L63.6,59.1 L65.3,59.3 L67.0,59.5 L68.7,59.7 L70.5,59.9 L72.2,60.1 L73.9,60.4 L75.7,60.6 L77.4,60.9 L79.1,61.2 L80.8,61.6 L82.6,62.0 L84.3,62.3 L86.0,62.8 L87.8,63.2 L89.5,63.7 L91.2,64.1 L92.9,64.7 L94.7,65.2 L96.4,65.7 L98.1,66.4 L99.9,67.0 L101.6,67.8 L103.3,68.5 L105.1,69.3 L106.8,70.1 L108.5,70.9 L110.2,71.6 L112.0,72.4 L113.7,73.2 L115.4,73.9 L117.2,74.7 L118.9,75.5 L120.6,76.3 L122.3,77.1 L124.1,77.9 L125.8,78.7 L127.5,79.5 L129.3,80.3 L131.0,81.2 L132.7,82.0 L134.4,82.8 L136.2,83.7 L137.9,84.5 L139.6,85.3 L141.4,86.2 L143.1,87.0 L144.8,87.9 L146.5,88.7 L148.3,89.6 L150.0,90.4 L150.0,91.8 L148.3,90.9 L146.5,90.1 L144.8,89.2 L143.1,88.4 L141.4,87.5 L139.6,86.7 L137.9,85.8 L136.2,85.0 L134.4,84.2 L132.7,83.3 L131.0,82.5 L129.3,81.7 L127.5,80.8 L125.8,80.0 L124.1,79.2 L122.3,78.4 L120.6,77.6 L118.9,76.8 L117.2,76.0 L115.4,75.3 L113.7,74.5 L112.0,73.7 L110.2,73.0 L108.5,72.2 L106.8,71.4 L105.1,70.6 L103.3,69.8 L101.6,69.1 L99.9,68.3 L98.1,67.6 L96.4,67.0 L94.7,66.4 L92.9,65.9 L91.2,65.4 L89.5,64.9 L87.8,64.4 L86.0,64.0 L84.3,63.6 L82.6,63.2 L80.8,62.8 L79.1,62.5 L77.4,62.1 L75.7,61.9 L73.9,61.6 L72.2,61.3 L70.5,61.1 L68.7,60.9 L67.0,60.7 L65.3,60.5 L63.6,60.3 L61.8,60.1 L60.1,59.9 L58.4,59.7 L56.6,59.5 L54.9,59.4 L53.2,59.2 L51.5,59.0 L49.7,58.8 L48.0,58.6Z M48.0,57.3 L51.4,57.3 L51.4,58.9 L48.0,58.9Z M73.2,60.5 L79.0,60.5 L79.0,62.1 L73.2,62.1Z M89.4,64.3 L95.2,64.3 L95.2,65.9 L89.4,65.9Z M101.0,68.6 L106.8,68.6 L106.8,70.2 L101.0,70.2Z M110.0,72.6 L115.8,72.6 L115.8,74.2 L110.0,74.2Z M117.2,75.9 L123.0,75.9 L123.0,77.5 L117.2,77.5Z M123.4,78.8 L129.2,78.8 L129.4,81.3 L134.4,81.3 L134.6,83.6 L139.2,83.6 L139.4,85.6 L143.4,85.6 L143.6,87.5 L147.2,87.5 L147.4,89.2 L150.6,89.2 L150.8,90.8 L153.8,90.8 L154.0,92.3 L156.8,92.3 L157.0,93.7 L159.6,93.7 L159.8,95.0 L162.2,95.0 L162.4,96.3 L164.6,96.3 L164.8,97.5 L166.8,97.5 L167.0,98.7 L169.0,98.7 L169.2,99.8 L171.0,99.8 L171.2,100.9 L173.0,100.9 L173.2,101.9 L175.0,101.9 L175.2,102.9 L176.6,102.9 L176.8,103.9 L178.4,103.9 L178.6,104.8 L180.0,104.8 L180.2,105.7 L181.6,105.7 L181.8,106.6 L183.0,106.6 L183.2,107.4 L184.6,107.4 L184.8,108.3 L186.0,108.3 L186.2,109.1 L187.2,109.1 L187.4,109.8 L188.6,109.8 L188.8,110.6 L189.8,110.6 L190.0,111.3 L191.2,111.3 L191.4,112.0 L192.2,112.0 L192.4,112.7 L193.4,112.7 L193.6,113.4 L194.6,113.4 L194.8,114.1 L195.6,114.1 L195.8,114.7 L196.8,114.7 L197.0,115.3 L197.8,115.3 L198.0,116.0 L198.8,116.0 L199.0,116.6 L199.8,116.6 L200.0,117.2 L200.8,117.2 L201.0,117.7 L201.6,117.7 L201.8,118.3 L202.6,118.3 L202.8,118.9 L203.4,118.9 L203.6,119.4 L204.4,119.4 L204.6,120.0 L205.2,120.0 L205.4,120.5 L206.0,120.5 L206.2,121.0 L206.8,121.0 L207.0,121.5 L207.8,121.5 L208.0,122.1 L208.4,122.1 L208.6,122.6 L209.2,122.6 L209.4,123.0 L210.0,123.0 L210.2,123.5 L210.8,123.5 L211.0,124.0 L211.6,124.0 L211.8,124.5 L212.2,124.5 L212.4,124.9 L213.0,124.9 L213.2,125.4 L213.6,125.4 L213.8,125.8 L214.4,125.8 L214.6,126.3 L215.0,126.3 L215.2,126.7 L215.6,126.7 L215.8,127.1 L216.0,127.1 L217.9,128.4 L219.8,129.7 L221.7,131.0 L223.6,132.3 L225.5,133.6 L227.4,134.9 L229.3,136.2 L231.2,137.5 L233.1,138.7 L235.0,140.0 L236.9,141.3 L238.8,142.6 L240.7,143.9 L242.6,145.1 L244.5,146.4 L246.4,147.6 L248.3,148.9 L250.2,150.1 L252.1,151.4 L254.0,152.6 L255.9,153.9 L257.8,155.1 L259.7,156.4 L261.6,157.6 L263.5,158.9 L265.4,160.1 L267.3,161.3 L269.2,162.6 L271.1,163.8 L273.0,165.1 L274.9,166.3 L276.8,167.5 L278.7,168.8 L280.6,170.0 L282.5,171.2 L284.4,172.5 L286.3,173.7 L288.2,174.9 L290.1,176.1 L291.9,177.4 L293.8,178.6 L295.7,179.8 L297.6,181.0 L299.5,182.2 L301.4,183.4 L303.3,184.6 L305.2,185.8 L307.1,187.0 L309.0,188.2 L310.9,189.4 L312.8,190.6 L314.7,191.8 L316.6,193.0 L318.5,194.2 L320.4,195.4 L322.3,196.6 L324.2,197.8 L326.1,198.9 L328.0,200.1 L329.9,201.2 L331.8,202.4 L333.7,203.5 L335.6,204.6 L337.5,205.7 L339.4,206.7 L341.3,207.8 L343.2,208.9 L345.1,209.9 L347.0,210.9 L348.9,212.0 L350.8,213.0 L352.7,214.0 L354.6,215.0 L356.5,216.0 L358.4,217.0 L360.3,218.0 L362.2,219.0 L364.1,220.2 L366.0,222.0 L366.0,224.9 L364.1,224.7 L362.2,224.0 L360.3,223.0 L358.4,222.1 L356.5,221.2 L354.6,220.3 L352.7,219.4 L350.8,218.5 L348.9,217.6 L347.0,216.7 L345.1,215.7 L343.2,214.8 L341.3,213.9 L339.4,212.9 L337.5,211.8 L335.6,210.8 L333.7,209.7 L331.8,208.6 L329.9,207.4 L328.0,206.3 L326.1,205.1 L324.2,203.9 L322.3,202.7 L320.4,201.5 L318.5,200.3 L316.6,199.1 L314.7,197.9 L312.8,196.7 L310.9,195.5 L309.0,194.3 L307.1,193.1 L305.2,191.8 L303.3,190.6 L301.4,189.4 L299.5,188.1 L297.6,186.9 L295.7,185.6 L293.8,184.4 L291.9,183.1 L290.1,181.9 L288.2,180.6 L286.3,179.3 L284.4,178.1 L282.5,176.8 L280.6,175.5 L278.7,174.3 L276.8,173.0 L274.9,171.7 L273.0,170.4 L271.1,169.1 L269.2,167.9 L267.3,166.6 L265.4,165.3 L263.5,164.0 L261.6,162.7 L259.7,161.4 L257.8,160.1 L255.9,158.8 L254.0,157.5 L252.1,156.2 L250.2,154.9 L248.3,153.6 L246.4,152.3 L244.5,151.0 L242.6,149.7 L240.7,148.4 L238.8,147.1 L236.9,145.9 L235.0,144.6 L233.1,143.4 L231.2,142.1 L229.3,140.9 L227.4,139.6 L225.5,138.4 L223.6,137.2 L221.7,135.9 L219.8,134.7 L217.9,133.5 L216.0,132.3 L215.8,132.0 L215.4,132.0 L215.2,131.6 L214.8,131.6 L214.6,131.2 L214.2,131.2 L214.0,130.8 L213.6,130.8 L213.4,130.4 L213.0,130.4 L212.8,130.0 L212.4,130.0 L212.2,129.6 L211.8,129.6 L211.6,129.2 L211.2,129.2 L211.0,128.7 L210.6,128.7 L210.4,128.3 L209.8,128.3 L209.6,127.9 L209.2,127.9 L209.0,127.4 L208.6,127.4 L208.4,127.0 L207.8,127.0 L207.6,126.5 L207.2,126.5 L207.0,126.1 L206.4,126.1 L206.2,125.6 L205.8,125.6 L205.6,125.1 L205.0,125.1 L204.8,124.6 L204.2,124.6 L204.0,124.2 L203.4,124.2 L203.2,123.7 L202.6,123.7 L202.4,123.1 L202.0,123.1 L201.8,122.6 L201.0,122.6 L200.8,122.1 L200.2,122.1 L200.0,121.6 L199.4,121.6 L199.2,121.0 L198.6,121.0 L198.4,120.5 L197.6,120.5 L197.4,119.9 L196.8,119.9 L196.6,119.3 L195.8,119.3 L195.6,118.8 L195.0,118.8 L194.8,118.2 L194.0,118.2 L193.8,117.6 L193.0,117.6 L192.8,116.9 L192.0,116.9 L191.8,116.3 L191.0,116.3 L190.8,115.7 L189.8,115.7 L189.6,115.0 L188.8,115.0 L188.6,114.3 L187.6,114.3 L187.4,113.6 L186.4,113.6 L186.2,112.9 L185.4,112.9 L185.2,112.2 L184.0,112.2 L183.8,111.4 L182.8,111.4 L182.6,110.7 L181.4,110.7 L181.2,109.9 L180.2,109.9 L180.0,109.0 L178.8,109.0 L178.6,108.2 L177.2,108.2 L177.0,107.3 L175.8,107.3 L175.6,106.4 L174.2,106.4 L174.0,105.5 L172.6,105.5 L172.4,104.5 L170.8,104.5 L170.6,103.5 L169.2,103.5 L169.0,102.5 L167.2,102.5 L167.0,101.4 L165.2,101.4 L165.0,100.3 L163.2,100.3 L163.0,99.1 L161.0,99.1 L160.8,97.9 L158.8,97.9 L158.6,96.6 L156.4,96.6 L156.2,95.3 L153.8,95.3 L153.6,93.9 L151.0,93.9 L150.8,92.4 L148.0,92.4 L147.8,90.8 L144.8,90.8 L144.6,89.1 L141.4,89.1 L141.2,87.2 L137.6,87.2 L137.4,85.2 L133.4,85.2 L133.2,82.9 L128.6,82.9 L128.4,80.4 L123.4,80.4Z" fill="#00ff00"/>
<path d="M48.0,57.4 L49.7,57.6 L51.5,57.8 L53.2,58.0 L54.9,58.2 L56.6,58.3 L58.4,58.5 L60.1,58.7 L61.8,58.9 L63.6,59.1 L65.3,59.3 L67.0,59.5 L68.7,59.7 L70.5,59.9 L72.2,60.1 L73.9,60.4 L75.7,60.6 L77.4,60.9 L79.1,61.2 L80.8,61.6 L82.6,62.0 L84.3,62.3 L86.0,62.8 L87.8,63.2 L89.5,63.7 L91.2,64.1 L92.9,64.7 L94.7,65.2 L96.4,65.7 L98.1,66.4 L99.9,67.0 L101.6,67.8 L103.3,68.5 L105.1,69.3 L106.8,70.1 L108.5,70.9 L110.2,71.6 L112.0,72.4 L113.7,73.2 L115.4,73.9 L117.2,74.7 L118.9,75.5 L120.6,76.3 L122.3,77.1 L124.1,77.9 L125.8,78.7 L127.5,79.5 L129.3,80.4 L131.0,81.2 L132.7,82.0 L134.4,82.9 L136.2,83.7 L137.9,84.6 L139.6,85.4 L141.4,86.3 L143.1,87.2 L144.8,88.0 L146.5,88.9 L148.3,89.8 L150.0,90.6 L150.0,92.0 L148.3,91.1 L146.5,90.2 L144.8,89.4 L143.1,88.5 L141.4,87.6 L139.6,86.8 L137.9,85.9 L136.2,85.1 L134.4,84.2 L132.7,83.4 L131.0,82.5 L129.3,81.7 L127.5,80.9 L125.8,80.0 L124.1,79.2 L122.3,78.4 L120.6,77.6 L118.9,76.8 L117.2,76.0 L115.4,75.3 L113.7,74.5 L112.0,73.7 L110.2,73.0 L108.5,72.2 L106.8,71.4 L105.1,70.6 L103.3,69.8 L101.6,69.1 L99.9,68.3 L98.1,67.6 L96.4,67.0 L94.7,66.4 L92.9,65.9 L91.2,65.4 L89.5,64.9 L87.8,64.4 L86.0,64.0 L84.3,63.6 L82.6,63.2 L80.8,62.8 L79.1,62.5 L77.4,62.1 L75.7,61.9 L73.9,61.6 L72.2,61.3 L70.5,61.1 L68.7,60.9 L67.0,60.7 L65.3,60.5 L63.6,60.3 L61.8,60.1 L60.1,59.9 L58.4,59.7 L56.6,59.5 L54.9,59.4 L53.2,59.2 L51.5,59.0 L49.7,58.8 L48.0,58.6Z M48.0,57.3 L51.4,57.3 L51.4,58.9 L48.0,58.9Z M73.2,60.5 L79.0,60.5 L79.0,62.1 L73.2,62.1Z M89.4,64.3 L95.2,64.3 L95.2,65.9 L89.4,65.9Z M101.0,68.6 L106.8,68.6 L106.8,70.2 L101.0,70.2Z M110.0,72.6 L115.8,72.6 L115.8,74.2 L110.0,74.2Z M117.2,75.9 L123.0,75.9 L123.0,77.5 L117.2,77.5Z M123.4,78.8 L129.2,78.8 L129.4,81.4 L134.4,81.4 L134.6,83.7 L139.2,83.7 L139.4,85.7 L143.4,85.7 L143.6,87.6 L147.2,87.6 L147.4,89.4 L150.6,89.4 L150.8,91.0 L153.8,91.0 L154.0,92.5 L156.8,92.5 L157.0,93.9 L159.6,93.9 L159.8,95.3 L162.2,95.3 L162.4,96.6 L164.6,96.6 L164.8,97.9 L166.8,97.9 L167.0,99.1 L169.0,99.1 L169.2,100.2 L171.0,100.2 L171.2,101.3 L173.0,101.3 L173.2,102.4 L175.0,102.4 L175.2,103.4 L176.6,103.4 L176.8,104.4 L178.4,104.4 L178.6,105.4 L180.0,105.4 L180.2,106.3 L181.6,106.3 L181.8,107.2 L183.0,107.2 L183.2,108.1 L184.6,108.1 L184.8,108.9 L186.0,108.9 L186.2,109.8 L187.2,109.8 L187.4,110.6 L188.6,110.6 L188.8,111.4 L189.8,111.4 L190.0,112.2 L191.2,112.2 L191.4,112.9 L192.2,112.9 L192.4,113.7 L193.4,113.7 L193.6,114.4 L194.6,114.4 L194.8,115.1 L195.6,115.1 L195.8,115.8 L196.8,115.8 L197.0,116.4 L197.8,116.4 L198.0,117.1 L198.8,117.1 L199.0,117.7 L199.8,117.7 L200.0,118.4 L200.8,118.4 L201.0,119.0 L201.6,119.0 L201.8,119.6 L202.6,119.6 L202.8,120.2 L203.4,120.2 L203.6,120.8 L204.4,120.8 L204.6,121.3 L205.2,121.3 L205.4,121.9 L206.0,121.9 L206.2,122.5 L206.8,122.5 L207.0,123.0 L207.8,123.0 L208.0,123.6 L208.4,123.6 L208.6,124.1 L209.2,124.1 L209.4,124.6 L210.0,124.6 L210.2,125.1 L210.8,125.1 L211.0,125.6 L211.6,125.6 L211.8,126.1 L212.2,126.1 L212.4,126.6 L213.0,126.6 L213.2,127.1 L213.6,127.1 L213.8,127.6 L214.4,127.6 L214.6,128.0 L215.0,128.0 L215.2,128.5 L215.6,128.5 L215.8,128.9 L216.0,128.9 L217.9,130.2 L219.8,131.6 L221.7,133.0 L223.6,134.4 L225.5,135.8 L227.4,137.1 L229.3,138.5 L231.2,139.8 L233.1,141.2 L235.0,142.5 L236.9,143.9 L238.8,145.2 L240.7,146.5 L242.6,147.8 L244.5,149.1 L246.4,150.4 L248.3,151.6 L250.2,152.9 L252.1,154.2 L254.0,155.5 L255.9,156.8 L257.8,158.1 L259.7,159.4 L261.6,160.7 L263.5,162.0 L265.4,163.3 L267.3,164.6 L269.2,166.0 L271.1,167.3 L273.0,168.6 L274.9,169.9 L276.8,171.2 L278.7,172.6 L280.6,173.9 L282.5,175.2 L284.4,176.5 L286.3,177.9 L288.2,179.2 L290.1,180.5 L291.9,181.9 L293.8,183.3 L295.7,184.7 L297.6,186.1 L299.5,187.5 L301.4,188.8 L303.3,190.2 L305.2,191.6 L307.1,193.0 L309.0,194.4 L310.9,195.8 L312.8,197.2 L314.7,198.6 L316.6,199.9 L318.5,201.3 L320.4,202.7 L322.3,204.1 L324.2,205.5 L326.1,206.9 L328.0,208.3 L329.9,209.7 L331.8,211.1 L333.7,212.5 L335.6,213.9 L337.5,215.3 L339.4,216.6 L341.3,218.0 L343.2,219.3 L345.1,220.7 L347.0,222.0 L348.9,223.3 L350.8,224.6 L352.7,225.9 L354.6,227.1 L356.5,228.3 L358.4,229.5 L360.3,230.7 L362.2,231.9 L364.1,233.4 L366.0,235.5 L366.0,239.2 L364.1,239.1 L362.2,238.2 L360.3,237.1 L358.4,235.9 L356.5,234.7 L354.6,233.5 L352.7,232.2 L350.8,231.0 L348.9,229.7 L347.0,228.4 L345.1,227.1 L343.2,225.8 L341.3,224.5 L339.4,223.1 L337.5,221.7 L335.6,220.4 L333.7,219.0 L331.8,217.6 L329.9,216.2 L328.0,214.8 L326.1,213.4 L324.2,212.0 L322.3,210.6 L320.4,209.2 L318.5,207.7 L316.6,206.3 L314.7,204.9 L312.8,203.5 L310.9,202.1 L309.0,200.7 L307.1,199.3 L305.2,197.9 L303.3,196.5 L301.4,195.1 L299.5,193.7 L297.6,192.3 L295.7,190.9 L293.8,189.5 L291.9,188.1 L290.1,186.7 L288.2,185.3 L286.3,183.9 L284.4,182.4 L282.5,181.0 L280.6,179.5 L278.7,178.1 L276.8,176.6 L274.9,175.2 L273.0,173.8 L271.1,172.3 L269.2,170.9 L267.3,169.5 L265.4,168.1 L263.5,166.7 L261.6,165.3 L259.7,163.9 L257.8,162.5 L255.9,161.1 L254.0,159.8 L252.1,158.5 L250.2,157.1 L248.3,155.8 L246.4,154.5 L244.5,153.2 L242.6,151.9 L240.7,150.6 L238.8,149.4 L236.9,148.1 L235.0,146.9 L233.1,145.6 L231.2,144.4 L229.3,143.1 L227.4,141.9 L225.5,140.6 L223.6,139.3 L221.7,138.1 L219.8,136.8 L217.9,135.5 L216.0,134.3 L215.8,133.9 L215.4,133.9 L215.2,133.5 L214.8,133.5 L214.6,133.1 L214.2,133.1 L214.0,132.7 L213.6,132.7 L213.4,132.3 L213.0,132.3 L212.8,131.8 L212.4,131.8 L212.2,131.4 L211.8,131.4 L211.6,131.0 L211.2,131.0 L211.0,130.5 L210.6,130.5 L210.4,130.1 L209.8,130.1 L209.6,129.6 L209.2,129.6 L209.0,129.2 L208.6,129.2 L208.4,128.7 L207.8,128.7 L207.6,128.2 L207.2,128.2 L207.0,127.7 L206.4,127.7 L206.2,127.2 L205.8,127.2 L205.6,126.7 L205.0,126.7 L204.8,126.2 L204.2,126.2 L204.0,125.7 L203.4,125.7 L203.2,125.2 L202.6,125.2 L202.4,124.6 L202.0,124.6 L201.8,124.1 L201.0,124.1 L200.8,123.5 L200.2,123.5 L200.0,122.9 L199.4,122.9 L199.2,122.4 L198.6,122.4 L198.4,121.8 L197.6,121.8 L197.4,121.2 L196.8,121.2 L196.6,120.6 L195.8,120.6 L195.6,120.0 L195.0,120.0 L194.8,119.3 L194.0,119.3 L193.8,118.7 L193.0,118.7 L192.8,118.0 L192.0,118.0 L191.8,117.4 L191.0,117.4 L190.8,116.7 L189.8,116.7 L189.6,116.0 L188.8,116.0 L188.6,115.3 L187.6,115.3 L187.4,114.5 L186.4,114.5 L186.2,113.8 L185.4,113.8 L185.2,113.0 L184.0,113.0 L183.8,112.2 L182.8,112.2 L182.6,111.4 L181.4,111.4 L181.2,110.5 L180.2,110.5 L180.0,109.7 L178.8,109.7 L178.6,108.8 L177.2,108.8 L177.0,107.9 L175.8,107.9 L175.6,107.0 L174.2,107.0 L174.0,106.0 L172.6,106.0 L172.4,105.0 L170.8,105.0 L170.6,104.0 L169.2,104.0 L169.0,102.9 L167.2,102.9 L167.0,101.8 L165.2,101.8 L165.0,100.7 L163.2,100.7 L163.0,99.5 L161.0,99.5 L160.8,98.2 L158.8,98.2 L158.6,96.9 L156.4,96.9 L156.2,95.5 L153.8,95.5 L153.6,94.1 L151.0,94.1 L150.8,92.6 L148.0,92.6 L147.8,91.0 L144.8,91.0 L144.6,89.2 L141.4,89.2 L141.2,87.3 L137.6,87.3 L137.4,85.3 L133.4,85.3 L133.2,83.0 L128.6,83.0 L128.4,80.4 L123.4,80.4Z" fill="#40e0d0"/>
<path d="M48.0,57.4 L49.7,57.6 L51.5,57.8 L53.2,58.0 L54.9,58.2 L56.6,58.3 L58.4,58.5 L60.1,58.7 L61.8,58.9 L63.6,59.1 L65.3,59.3 L67.0,59.5 L68.7,59.7 L70.5,59.9 L72.2,60.1 L73.9,60.4 L75.7,60.6 L77.4,60.9 L79.1,61.2 L80.8,61.6 L82.6,62.0 L84.3,62.3 L86.0,62.8 L87.8,63.2 L89.5,63.7 L91.2,64.1 L92.9,64.7 L94.7,65.2 L96.4,65.7 L98.1,66.3 L99.9,67.0 L101.6,67.8 L103.3,68.5 L105.1,69.3 L106.8,70.1 L108.5,70.9 L110.2,71.6 L112.0,72.4 L113.7,73.2 L115.4,74.0 L117.2,74.8 L118.9,75.6 L120.6,76.4 L122.3,77.3 L124.1,78.1 L125.8,78.9 L127.5,79.7 L129.3,80.6 L131.0,81.4 L132.7,82.3 L134.4,83.1 L136.2,84.0 L137.9,84.8 L139.6,85.7 L141.4,86.6 L143.1,87.6 L144.8,88.5 L146.5,89.4 L148.3,90.4 L150.0,91.4 L150.0,92.8 L148.3,91.8 L146.5,90.8 L144.8,89.9 L143.1,88.9 L141.4,88.0 L139.6,87.1 L137.9,86.2 L136.2,85.3 L134.4,84.4 L132.7,83.6 L131.0,82.7 L129.3,81.9 L127.5,81.1 L125.8,80.2 L124.1,79.4 L122.3,78.6 L120.6,77.8 L118.9,76.9 L117.2,76.1 L115.4,75.3 L113.7,74.5 L112.0,73.7 L110.2,73.0 L108.5,72.2 L106.8,71.4 L105.1,70.6 L103.3,69.8 L101.6,69.1 L99.9,68.3 L98.1,67.6 L96.4,67.0 L94.7,66.4 L92.9,65.9 L91.2,65.4 L89.5,64.9 L87.8,64.4 L86.0,64.0 L84.3,63.6 L82.6,63.2 L80.8,62.8 L79.1,62.5 L77.4,62.1 L75.7,61.9 L73.9,61.6 L72.2,61.3 L70.5,61.1 L68.7,60.9 L67.0,60.7 L65.3,60.5 L63.6,60.3 L61.8,60.1 L60.1,59.9 L58.4,59.7 L56.6,59.5 L54.9,59.4 L53.2,59.2 L51.5,59.0 L49.7,58.8 L48.0,58.6Z M48.0,57.3 L51.4,57.3 L51.4,58.9 L48.0,58.9Z M73.2,60.5 L79.0,60.5 L79.0,62.1 L73.2,62.1Z M89.4,64.3 L95.2,64.3 L95.2,65.9 L89.4,65.9Z M101.0,68.6 L106.8,68.6 L106.8,70.2 L101.0,70.2Z M110.0,72.7 L115.8,72.7 L115.8,74.3 L110.0,74.3Z M117.2,76.1 L123.0,76.1 L123.0,77.7 L117.2,77.7Z M123.4,79.0 L129.2,79.0 L129.4,81.6 L134.4,81.6 L134.6,83.9 L139.2,83.9 L139.4,86.1 L143.4,86.1 L143.6,88.1 L147.2,88.1 L147.4,90.0 L150.6,90.0 L150.8,91.8 L153.8,91.8 L154.0,93.5 L156.8,93.5 L157.0,95.1 L159.6,95.1 L159.8,96.6 L162.2,96.6 L162.4,98.0 L164.6,98.0 L164.8,99.3 L166.8,99.3 L167.0,100.5 L169.0,100.5 L169.2,101.7 L171.0,101.7 L171.2,102.9 L173.0,102.9 L173.2,104.0 L175.0,104.0 L175.2,105.0 L176.6,105.0 L176.8,106.0 L178.4,106.0 L178.6,107.0 L180.0,107.0 L180.2,108.0 L181.6,108.0 L181.8,108.9 L183.0,108.9 L183.2,109.8 L184.6,109.8 L184.8,110.7 L186.0,110.7 L186.2,111.6 L187.2,111.6 L187.4,112.4 L188.6,112.4 L188.8,113.3 L189.8,113.3 L190.0,114.1 L191.2,114.1 L191.4,114.9 L192.2,114.9 L192.4,115.6 L193.4,115.6 L193.6,116.4 L194.6,116.4 L194.8,117.1 L195.6,117.1 L195.8,117.8 L196.8,117.8 L197.0,118.5 L197.8,118.5 L198.0,119.2 L198.8,119.2 L199.0,119.9 L199.8,119.9 L200.0,120.5 L200.8,120.5 L201.0,121.2 L201.6,121.2 L201.8,121.8 L202.6,121.8 L202.8,122.4 L203.4,122.4 L203.6,123.0 L204.4,123.0 L204.6,123.6 L205.2,123.6 L205.4,124.2 L206.0,124.2 L206.2,124.7 L206.8,124.7 L207.0,125.3 L207.8,125.3 L208.0,125.8 L208.4,125.8 L208.6,126.4 L209.2,126.4 L209.4,126.9 L210.0,126.9 L210.2,127.4 L210.8,127.4 L211.0,127.9 L211.6,127.9 L211.8,128.4 L212.2,128.4 L212.4,128.9 L213.0,128.9 L213.2,129.4 L213.6,129.4 L213.8,129.9 L214.4,129.9 L214.6,130.4 L215.0,130.4 L215.2,130.8 L215.6,130.8 L215.8,131.3 L216.0,131.3 L217.9,132.6 L219.8,133.9 L221.7,135.3 L223.6,136.6 L225.5,138.0 L227.4,139.3 L229.3,140.7 L231.2,142.1 L233.1,143.5 L234.9,144.9 L236.8,146.3 L238.7,147.7 L240.6,149.2 L242.5,150.6 L244.4,152.0 L246.3,153.4 L248.2,154.9 L250.1,156.3 L252.0,157.8 L253.9,159.3 L255.8,160.8 L257.7,162.3 L259.6,163.9 L261.5,165.4 L263.4,167.0 L265.3,168.6 L267.2,170.2 L269.1,171.7 L271.0,173.3 L272.8,174.9 L274.7,176.6 L276.6,178.2 L278.5,179.8 L280.4,181.5 L282.3,183.1 L284.2,184.8 L286.1,186.5 L288.0,188.1 L289.9,189.8 L291.8,191.5 L293.7,193.2 L295.6,195.0 L297.5,196.7 L299.4,198.4 L301.3,200.2 L303.2,201.9 L305.1,203.6 L307.0,205.3 L308.9,207.1 L310.7,208.8 L312.6,210.6 L314.5,212.4 L316.4,214.2 L318.3,216.0 L320.2,217.8 L322.1,219.6 L324.0,221.4 L325.9,223.2 L327.8,225.1 L329.7,226.9 L331.6,228.8 L333.5,230.6 L335.4,232.5 L337.3,234.4 L339.2,236.3 L341.1,238.2 L343.0,240.0 L344.9,241.9 L346.8,243.8 L348.6,245.7 L350.5,247.6 L352.4,249.4 L354.3,251.3 L356.2,253.2 L358.1,255.0 L360.0,256.9 L361.9,258.8 L363.8,261.1 L365.7,264.1 L365.7,269.1 L363.8,268.3 L361.9,266.9 L360.0,265.0 L358.1,263.1 L356.2,261.2 L354.3,259.3 L352.4,257.4 L350.5,255.4 L348.6,253.5 L346.8,251.6 L344.9,249.7 L343.0,247.7 L341.1,245.8 L339.2,243.9 L337.3,242.0 L335.4,240.0 L333.5,238.1 L331.6,236.2 L329.7,234.2 L327.8,232.3 L325.9,230.4 L324.0,228.5 L322.1,226.6 L320.2,224.7 L318.3,222.8 L316.4,220.9 L314.5,219.0 L312.6,217.2 L310.7,215.3 L308.9,213.5 L307.0,211.6 L305.1,209.8 L303.2,208.0 L301.3,206.2 L299.4,204.4 L297.5,202.7 L295.6,200.9 L293.7,199.2 L291.8,197.5 L289.9,195.7 L288.0,194.0 L286.1,192.3 L284.2,190.6 L282.3,189.0 L280.4,187.3 L278.5,185.6 L276.6,184.0 L274.7,182.3 L272.8,180.7 L271.0,179.1 L269.1,177.5 L267.2,175.9 L265.3,174.3 L263.4,172.7 L261.5,171.1 L259.6,169.5 L257.7,168.0 L255.8,166.4 L253.9,164.9 L252.0,163.4 L250.1,161.9 L248.2,160.4 L246.3,158.9 L244.4,157.5 L242.5,156.0 L240.6,154.6 L238.7,153.2 L236.8,151.8 L234.9,150.4 L233.1,149.0 L231.2,147.6 L229.3,146.2 L227.4,144.8 L225.5,143.5 L223.6,142.1 L221.7,140.7 L219.8,139.4 L217.9,138.0 L216.0,136.7 L215.8,136.3 L215.4,136.3 L215.2,135.9 L214.8,135.9 L214.6,135.5 L214.2,135.5 L214.0,135.1 L213.6,135.1 L213.4,134.7 L213.0,134.7 L212.8,134.2 L212.4,134.2 L212.2,133.8 L211.8,133.8 L211.6,133.4 L211.2,133.4 L211.0,132.9 L210.6,132.9 L210.4,132.4 L209.8,132.4 L209.6,132.0 L209.2,132.0 L209.0,131.5 L208.6,131.5 L208.4,131.0 L207.8,131.0 L207.6,130.5 L207.2,130.5 L207.0,130.0 L206.4,130.0 L206.2,129.5 L205.8,129.5 L205.6,129.0 L205.0,129.0 L204.8,128.5 L204.2,128.5 L204.0,128.0 L203.4,128.0 L203.2,127.4 L202.6,127.4 L202.4,126.9 L202.0,126.9 L201.8,126.3 L201.0,126.3 L200.8,125.8 L200.2,125.8 L200.0,125.2 L199.4,125.2 L199.2,124.6 L198.6,124.6 L198.4,124.0 L197.6,124.0 L197.4,123.4 L196.8,123.4 L196.6,122.8 L195.8,122.8 L195.6,122.1 L195.0,122.1 L194.8,121.5 L194.0,121.5 L193.8,120.8 L193.0,120.8 L192.8,120.1 L192.0,120.1 L191.8,119.4 L191.0,119.4 L190.8,118.7 L189.8,118.7 L189.6,118.0 L188.8,118.0 L188.6,117.2 L187.6,117.2 L187.4,116.5 L186.4,116.5 L186.2,115.7 L185.4,115.7 L185.2,114.9 L184.0,114.9 L183.8,114.0 L182.8,114.0 L182.6,113.2 L181.4,113.2 L181.2,112.3 L180.2,112.3 L180.0,111.4 L178.8,111.4 L178.6,110.5 L177.2,110.5 L177.0,109.6 L175.8,109.6 L175.6,108.6 L174.2,108.6 L174.0,107.6 L172.6,107.6 L172.4,106.6 L170.8,106.6 L170.6,105.6 L169.2,105.6 L169.0,104.5 L167.2,104.5 L167.0,103.3 L165.2,103.3 L165.0,102.1 L163.2,102.1 L163.0,100.9 L161.0,100.9 L160.8,99.6 L158.8,99.6 L158.6,98.2 L156.4,98.2 L156.2,96.7 L153.8,96.7 L153.6,95.1 L151.0,95.1 L150.8,93.4 L148.0,93.4 L147.8,91.6 L144.8,91.6 L144.6,89.7 L141.4,89.7 L141.2,87.7 L137.6,87.7 L137.4,85.5 L133.4,85.5 L133.2,83.2 L128.6,83.2 L128.4,80.6 L123.4,80.6Z" fill="#0000ff"/>
<path d="M69.0,48L362,218.4" stroke="#000" stroke-width="1.3" stroke-dasharray="4.6,3.15" fill="none"/>
</g>
<path d="M48.50,272.7v-6.7M48.50,48.0v6.7M76.19,272.7v-3.4M76.19,48.0v3.4M92.40,272.7v-3.4M92.40,48.0v3.4M103.89,272.7v-3.4M103.89,48.0v3.4M112.81,272.7v-3.4M112.81,48.0v3.4M120.09,272.7v-3.4M120.09,48.0v3.4M126.25,272.7v-3.4M126.25,48.0v3.4M131.58,272.7v-3.4M131.58,48.0v3.4M136.29,272.7v-3.4M136.29,48.0v3.4M140.50,272.7v-6.7M140.50,48.0v6.7M168.19,272.7v-3.4M168.19,48.0v3.4M184.40,272.7v-3.4M184.40,48.0v3.4M195.89,272.7v-3.4M195.89,48.0v3.4M204.81,272.7v-3.4M204.81,48.0v3.4M212.09,272.7v-3.4M212.09,48.0v3.4M218.25,272.7v-3.4M218.25,48.0v3.4M223.58,272.7v-3.4M223.58,48.0v3.4M228.29,272.7v-3.4M228.29,48.0v3.4M232.50,272.7v-6.7M232.50,48.0v6.7M260.19,272.7v-3.4M260.19,48.0v3.4M276.40,272.7v-3.4M276.40,48.0v3.4M287.89,272.7v-3.4M287.89,48.0v3.4M296.81,272.7v-3.4M296.81,48.0v3.4M304.09,272.7v-3.4M304.09,48.0v3.4M310.25,272.7v-3.4M310.25,48.0v3.4M315.58,272.7v-3.4M315.58,48.0v3.4M320.29,272.7v-3.4M320.29,48.0v3.4M324.50,272.7v-6.7M324.50,48.0v6.7M352.19,272.7v-3.4M352.19,48.0v3.4M368.40,272.7v-3.4M368.40,48.0v3.4M48.0,48.50h6.7M369.0,48.50h-6.7M48.0,155.50h6.7M369.0,155.50h-6.7M48.0,123.29h3.4M369.0,123.29h-3.4M48.0,104.45h3.4M369.0,104.45h-3.4M48.0,91.08h3.4M369.0,91.08h-3.4M48.0,80.71h3.4M369.0,80.71h-3.4M48.0,72.24h3.4M369.0,72.24h-3.4M48.0,65.07h3.4M369.0,65.07h-3.4M48.0,58.87h3.4M369.0,58.87h-3.4M48.0,53.40h3.4M369.0,53.40h-3.4M48.0,262.50h6.7M369.0,262.50h-6.7M48.0,230.29h3.4M369.0,230.29h-3.4M48.0,211.45h3.4M369.0,211.45h-3.4M48.0,198.08h3.4M369.0,198.08h-3.4M48.0,187.71h3.4M369.0,187.71h-3.4M48.0,179.24h3.4M369.0,179.24h-3.4M48.0,172.07h3.4M369.0,172.07h-3.4M48.0,165.87h3.4M369.0,165.87h-3.4M48.0,160.40h3.4M369.0,160.40h-3.4M48.0,272.87h3.4M369.0,272.87h-3.4M48.0,267.40h3.4M369.0,267.40h-3.4" stroke="#000" stroke-width="0.9" fill="none"/>
<rect x="48.0" y="48.0" width="321.0" height="224.7" fill="none" stroke="#1a1a1a" stroke-width="1.45"/>
<path d="M67.6,130.95H80" stroke="#ff00ff" stroke-width="1.0"/><path d="M67.6,144.35H80" stroke="#ff0000" stroke-width="1.0"/><path d="M67.6,157.75H80" stroke="#ffa500" stroke-width="1.0"/><path d="M67.6,171.15H80" stroke="#ffc800" stroke-width="1.0"/><path d="M67.6,184.55H80" stroke="#00ff00" stroke-width="1.0"/><path d="M67.6,197.95H80" stroke="#40e0d0" stroke-width="1.0"/><path d="M67.6,211.35H80" stroke="#0000ff" stroke-width="1.0"/><path d="M67.6,224.75H80" stroke="#9400d3" stroke-width="1.0"/><path d="M67.6,241.3H80" stroke="#000" stroke-width="1.1" stroke-dasharray="4.6,3.1"/>
<g id="txt" style="filter:grayscale(1)"><g font-size="11"><text transform="translate(48.6,284) scale(1,1.1)" text-anchor="middle">1</text><text transform="translate(140.6,284) scale(1,1.1)" text-anchor="middle">10</text><text transform="translate(232.6,284) scale(1,1.1)" text-anchor="middle">100</text><text transform="translate(324.6,284) scale(1,1.1)" text-anchor="middle">1000</text><text transform="translate(45.2,52.4) scale(1,1.1)" text-anchor="end">0.1</text><text transform="translate(45.2,159.4) scale(1,1.1)" text-anchor="end">0.01</text><text transform="translate(45.2,266.4) scale(1,1.1)" text-anchor="end">0.001</text></g>
<g font-size="13.8" word-spacing="-0.5"><text transform="translate(87.1,135.10) scale(1,1.06)">λ = 1</text><text transform="translate(87.1,148.45) scale(1,1.06)">λ = 3</text><text transform="translate(87.1,161.80) scale(1,1.06)">λ = 3.4</text><text transform="translate(87.1,175.15) scale(1,1.06)">λ = 3.425</text><text transform="translate(87.1,188.50) scale(1,1.06)">λ = 3.45</text><text transform="translate(87.1,201.85) scale(1,1.06)">λ = 3.5</text><text transform="translate(87.1,215.20) scale(1,1.06)">λ = 3.6</text><text transform="translate(87.1,228.55) scale(1,1.06)">λ = 4</text><text transform="translate(87.1,245.6) scale(1,1.06)"><tspan dy="2.4" font-size="15">~</tspan><tspan dy="-2.4" font-size="14.5">ζ</tspan><tspan dy="-6.6" dx="0.2" font-size="9.5">-1/2</tspan></text>
<text transform="translate(286.2,67.2) scale(1,1.06)"><tspan font-style="italic">L</tspan> = 8000</text>
<text transform="translate(285.5,83.6) scale(1,1.06)"><tspan font-style="italic">T</tspan> = 0.0056</text>
</g>
<text id="xt" transform="translate(208.3,296.3) scale(1,1.06)" font-size="14" word-spacing="-0.6" text-anchor="middle">ζ(<tspan font-style="italic">r</tspan>) = sin(<tspan font-style="italic">r</tspan> <tspan font-size="15">π</tspan> / <tspan font-style="italic">L</tspan>) <tspan font-style="italic">L</tspan> / <tspan font-size="15">π</tspan></text>
<text id="yt" transform="translate(14.9,160.3) rotate(-90) scale(1.02,1)" font-size="13" text-anchor="middle"><tspan font-style="italic">C</tspan>(<tspan font-style="italic">r</tspan>)</text>
</g></svg>
</body></html>
